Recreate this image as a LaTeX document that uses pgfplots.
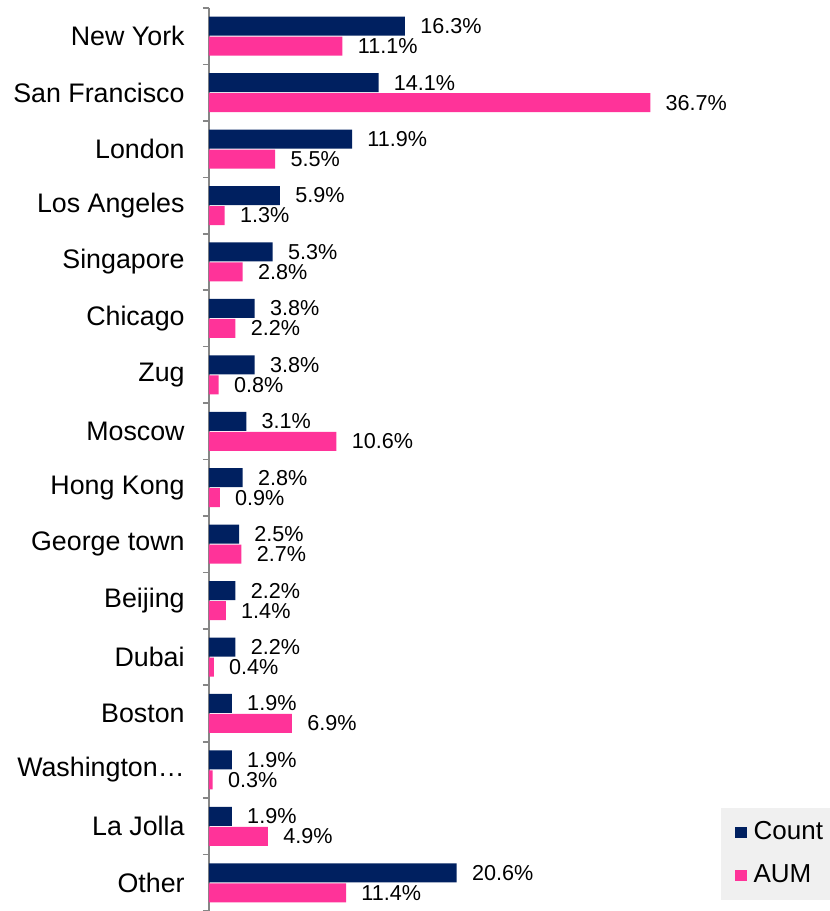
\documentclass[border=0pt]{standalone}
\usepackage{fontspec}
\setmainfont{Liberation Sans}
\usepackage{pgfplots}
\usepackage{pgfplotstable}
\pgfplotsset{compat=1.18}
\definecolor{countblue}{HTML}{002060}
\definecolor{aumpink}{HTML}{FF3399}
\definecolor{axisgray}{HTML}{868686}
\definecolor{legendgray}{HTML}{F0F0F0}

% share of managers by city: count and AUM (%)
\pgfplotstableread{
idx count aum
0  16.3 11.1
1  14.1 36.7
2  11.9 5.5
3  5.9  1.3
4  5.3  2.8
5  3.8  2.2
6  3.8  0.8
7  3.1  10.6
8  2.8  0.9
9  2.5  2.7
10 2.2  1.4
11 2.2  0.4
12 1.9  6.9
13 1.9  0.3
14 1.9  4.9
15 20.6 11.4
}\citydata

\begin{document}
\begin{tikzpicture}
\begin{axis}[
    scale only axis,
    width=255.5pt,
    height=451.5pt,
    xbar,
    bar width=9.5pt,
    xmin=0, xmax=42.5,
    ymin=-0.5, ymax=15.5,
    y dir=reverse,
    axis lines*=left,
    x axis line style={draw=none},
    xtick=\empty,
    y axis line style={draw=axisgray, line width=0.8pt},
    ytick={0,...,15},
    yticklabels={New York, San Francisco, London, Los Angeles, Singapore,
        Chicago, Zug, Moscow, Hong Kong, George town, Beijing, Dubai,
        Boston, Washington…, La Jolla, Other},
    minor ytick={-0.5,0.5,...,15.5},
    major tick length=0pt,
    minor tick length=3pt,
    tick align=outside,
    minor tick style={draw=axisgray, line width=0.8pt},
    yticklabel style={font=\fontsize{13.4}{15}\selectfont, inner sep=0pt, xshift=-12pt},
    /pgf/number format/assume math mode=true,
    nodes near coords={\pgfmathprintnumber[fixed,fixed zerofill,precision=1]{\pgfplotspointmeta}\%},
    nodes near coords style={anchor=west, inner sep=0pt, xshift=7.5pt, font=\fontsize{10.8}{12}\selectfont},
    legend style={at={(1.002,0.0122)}, anchor=south west, fill=legendgray, draw=none,
        font=\fontsize{13}{15}\selectfont, inner xsep=7pt, inner ysep=5pt,
        row sep=7pt, /tikz/every odd column/.append style={column sep=1.5pt}},
    legend cell align=left,
    legend image code/.code={\fill[#1] (0pt,-2.8pt) rectangle (5.6pt,2.8pt);},
]
\addplot[fill=countblue, draw=none, bar shift=5pt] table[x=count, y=idx] {\citydata};
\addplot[fill=aumpink, draw=none, bar shift=-5pt] table[x=aum, y=idx] {\citydata};
\legend{Count, AUM}
\end{axis}
\pgfresetboundingbox
\path (-104.5pt,0pt) rectangle (310.5pt,455.5pt);
\end{tikzpicture}
\end{document}
